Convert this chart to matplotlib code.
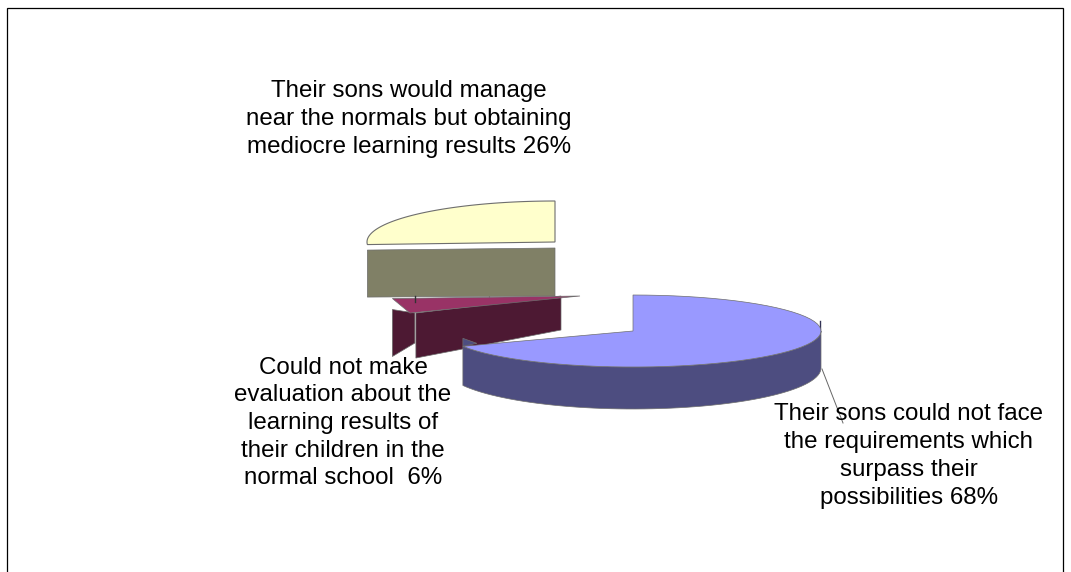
import numpy as np
import matplotlib
matplotlib.use("Agg")
import matplotlib.pyplot as plt
from matplotlib.patches import Polygon, Rectangle

plt.rcParams['font.family'] = ['Liberation Sans', 'DejaVu Sans']

shares = [68, 6, 26]
label_texts = [
    "Their sons could not face\nthe requirements which\nsurpass their\npossibilities {}%",
    "Could not make\nevaluation about the\nlearning results of\ntheir children in the\nnormal school  {}%",
    "Their sons would manage\nnear the normals but obtaining\nmediocre learning results {}%",
]
top_colors = ['#9999ff', '#993366', '#ffffcc']
wall_colors = ['#4d4d80', '#4d1933', '#808066']
edge_color = '#6e6e6e'

# slice start/end angles, clockwise from 12 o'clock
ends = np.cumsum(shares) / np.sum(shares) * 360
starts = np.concatenate([[0], ends[:-1]])


def arc(cx, cy, rx, ry, t0, t1, n=60):
    t = np.radians(np.linspace(t0, t1, n))
    return np.column_stack([cx + rx * np.sin(t), cy - ry * np.cos(t)])


def add_poly(ax, pts, color, z, lw=0.5):
    ax.add_patch(Polygon(pts, closed=True, facecolor=color, edgecolor=edge_color,
                         linewidth=lw, zorder=z))


fig = plt.figure(figsize=(10.71, 5.72), dpi=100)
ax = fig.add_axes([0, 0, 1, 1])
ax.set_xlim(0, 1071)
ax.set_ylim(572, 0)
ax.axis('off')

ax.add_patch(Rectangle((6.5, 7.5), 1056, 580, facecolor='white', edgecolor='black',
                       linewidth=0.9, zorder=0))

# biggest slice, pulled to the right
s, e = starts[0], ends[0]
cx, cy, rx, ry = 633, 331, 188, 36
front = arc(cx, cy, rx, ry, 90, e)
lower = arc(cx, cy + 37, rx, 41, e, 90)
add_poly(ax, np.vstack([front, lower]), wall_colors[0], 5)
p_end = arc(cx, cy, rx, ry, e, e, 1)[0]
add_poly(ax, [p_end, p_end + [0, -8], p_end + [14, -3]], wall_colors[0], 5)
p_right = arc(cx, cy, rx, ry, 90, 90, 1)[0]
ax.plot([p_right[0] - 1, p_right[0] - 1], [p_right[1] - 10, p_right[1]], color='#333355', lw=1, zorder=5)
add_poly(ax, np.vstack([[[cx, cy]], arc(cx, cy, rx, ry, s, e)]), top_colors[0], 6)

# small slice, its rim is drawn straight
s, e = starts[1], ends[1]
cx, cy, rx, ry = 580, 296, 188, 40
p_end = arc(cx, cy, rx, ry, s, s, 1)[0]
p_far = arc(cx, cy, rx, ry, e, e, 1)[0]
back = np.array([561, 296])
add_poly(ax, [p_end + [6, 0], back, back + [0, 34], p_end + [6, 45]], wall_colors[1], 3)
add_poly(ax, [p_far + [0, 11], p_far + [0, 58], p_end + [5, 30], p_end + [5, 0]], wall_colors[1], 3)
add_poly(ax, np.vstack([[[cx, cy]], arc(cx, cy, rx, ry, s, e, n=2)]), top_colors[1], 4)
ax.plot([415, 415], [296, 302], color='#333333', lw=1, zorder=4)
ax.plot([489, 489], [296, 299], color='#888888', lw=0.8, zorder=2)

# last slice, top and cut wall drawn apart
s, e = starts[2], ends[2]
cx, cy, rx, ry = 555, 242, 188, 41
add_poly(ax, np.vstack([[[cx, cy]], arc(cx, cy, rx, ry, s, e)]), top_colors[2], 2, lw=0.8)
p_start = arc(cx, cy, rx, ry, s, s, 1)[0]
add_poly(ax, [[cx, 248], p_start + [0, 5.5], p_start + [0, 52.5], [cx, 296]], wall_colors[2], 2)

# labels and leader
ax.plot([822, 843], [369, 423], color='#666666', lw=0.7, zorder=7)
ax.text(909, 456, label_texts[0].format(shares[0]), ha='center', va='center', fontsize=17.4,
        linespacing=1.36, color='black', zorder=10)
ax.text(343, 423, label_texts[1].format(shares[1]), ha='center', va='center', fontsize=17.4,
        linespacing=1.33, color='black', zorder=10)
ax.text(409, 119, label_texts[2].format(shares[2]), ha='center', va='center', fontsize=17.4,
        linespacing=1.33, color='black', zorder=10)

fig.savefig('out.png', dpi=100)
